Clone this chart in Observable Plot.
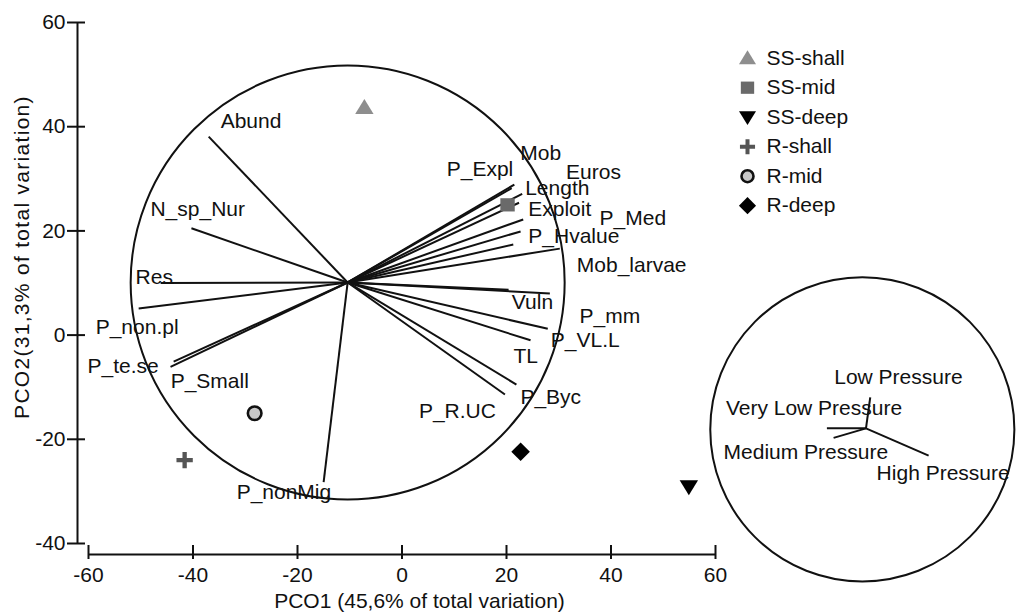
<!DOCTYPE html>
<html>
<head>
<meta charset="utf-8">
<script src="https://cdn.jsdelivr.net/npm/d3@7"></script>
<script src="https://cdn.jsdelivr.net/npm/@observablehq/plot@0.6"></script>
<style>
  html, body { margin: 0; padding: 0; background: #fff; overflow: hidden; }
  .ytitle text { letter-spacing: 1.3px; }
</style>
</head>
<body>
<div id="chart"></div>
<script>
// ---- Site scores on the first two principal coordinates ----
const sites = ["SS-shall", "SS-mid", "SS-deep", "R-shall", "R-mid", "R-deep"];
const pco1 = [-7.2, 20.2, 54.9, -41.6, -28.2, 22.7];
const pco2 = [43.7, 25.0, -29.1, -24.0, -15.0, -22.4];

// ---- Trait / fishery vectors (end points, PCO units) ----
const variables = [
  "Abund", "N_sp_Nur", "Res", "P_non.pl", "P_te.se", "P_Small", "P_nonMig",
  "Mob", "P_Expl", "Length", "Euros", "Exploit", "P_Med", "P_Hvalue", "Mob_larvae",
  "Vuln", "P_mm", "P_VL.L", "TL", "P_Byc", "P_R.UC"
];
const vecX = [-37.0, -40.3, -46.2, -50.4, -44.3, -43.7, -15.0,
              21.5, 21.0, 23.0, 22.4, 23.2, 22.7, 21.3, 30.2,
              28.3, 20.4, 27.9, 24.6, 21.9, 19.7];
const vecY = [38.1, 20.5, 10.0, 5.1, -6.1, -5.1, -28.2,
              28.9, 28.2, 27.1, 25.4, 22.2, 19.9, 17.4, 16.6,
              8.0, 8.7, 1.2, -1.0, -9.5, -11.4];
const vectorOrigin = [-10.4, 10.1];

// ---- Fishing pressure loadings (unit-circle scale) ----
const pressures = ["Low Pressure", "Very Low Pressure", "Medium Pressure", "High Pressure"];
const pressX = [0.028, -0.257, -0.213, 0.412];
const pressY = [0.204, 0.0, -0.063, -0.180];

// ---- Axis ticks ----
const xTicks = [-60, -40, -20, 0, 20, 40, 60];
const yTicks = [-40, -20, 0, 20, 40, 60];

const xTitle = "PCO1 (45,6% of total variation)";
const yTitle = "PCO2(31,3% of total variation)";

// ---- Layout ----
const W = 1016, H = 614;
const mL = 88, mR = 301, mT = 22, mB = 71;
const kx = (W - mR - mL) / 120;   // px per PCO1 unit
const ink = "#111";
const font = "'Liberation Sans', Arial, Helvetica, sans-serif";

// label placement relative to each vector tip (px)
const labelNudge = {
  "Abund": [12, -15], "N_sp_Nur": [-41, -19], "Res": [-25, -6], "P_non.pl": [-43, 19],
  "P_te.se": [-83, -1], "P_Small": [-3, 20], "P_nonMig": [-87, 10],
  "Mob": [6, -31], "P_Expl": [-65, -19], "Length": [3, -6], "Euros": [47, -31],
  "Exploit": [5, -10], "P_Med": [79, -13], "P_Hvalue": [15, -8], "Mob_larvae": [17, 17],
  "Vuln": [-38, 9], "P_mm": [71, 26], "P_VL.L": [3, 11], "TL": [-17, 16],
  "P_Byc": [4, 13], "P_R.UC": [-86, 17]
};
const pressureNudge = {
  "Low Pressure": [-36, -20], "Very Low Pressure": [-101, -20],
  "Medium Pressure": [-110, 14], "High Pressure": [-52, 18]
};

// inset correlation circle (PCO units) for the pressure loadings
const insetCentre = [88.1, -18.1];
const insetOrigin = [88.8, -17.9];
const insetR = 29.1;

// ---- Marker shapes ----
const rad = (size) => Math.sqrt(size / Math.PI);
const triUp = { draw(c, s) { const r = rad(s); c.moveTo(0, -1.06 * r); c.lineTo(1.15 * r, 0.82 * r); c.lineTo(-1.15 * r, 0.82 * r); c.closePath(); } };
const triDown = { draw(c, s) { const r = rad(s); c.moveTo(0, 1.06 * r); c.lineTo(1.15 * r, -0.82 * r); c.lineTo(-1.15 * r, -0.82 * r); c.closePath(); } };
const square = { draw(c, s) { const r = rad(s) * 0.9; c.rect(-r, -r * 0.92, 2 * r, 1.84 * r); } };
const diamond = { draw(c, s) { const r = rad(s) * 1.16; c.moveTo(0, -r); c.lineTo(r, 0); c.lineTo(0, r); c.lineTo(-r, 0); c.closePath(); } };
const plus = { draw(c, s) { const r = rad(s) * 1.02, t = rad(s) * 0.27; c.moveTo(-r, -t); c.lineTo(-t, -t); c.lineTo(-t, -r); c.lineTo(t, -r); c.lineTo(t, -t); c.lineTo(r, -t); c.lineTo(r, t); c.lineTo(t, t); c.lineTo(t, r); c.lineTo(-t, r); c.lineTo(-t, t); c.lineTo(-r, t); c.closePath(); } };

const siteStyle = {
  "SS-shall": { symbol: triUp, fill: "#8e8e8e", stroke: "none" },
  "SS-mid":   { symbol: square, fill: "#6a6a6a", stroke: "none" },
  "SS-deep":  { symbol: triDown, fill: "#000", stroke: "none" },
  "R-shall":  { symbol: plus, fill: "#555", stroke: "none" },
  "R-mid":    { symbol: "circle", fill: "#c8c8c8", stroke: "#111", strokeWidth: 2.6 },
  "R-deep":   { symbol: diamond, fill: "#000", stroke: "none" }
};
const siteR = { "R-mid": 6.8 };

const idx = (arr) => arr.map((_, i) => i);

const marks = [
  // correlation circle
  Plot.dot([vectorOrigin], { x: d => d[0], y: d => d[1], r: 217, fill: "none", stroke: ink, strokeWidth: 2 }),
  // vectors
  Plot.link(idx(variables), {
    x1: () => vectorOrigin[0], y1: () => vectorOrigin[1],
    x2: i => vecX[i], y2: i => vecY[i],
    stroke: ink, strokeWidth: 2
  }),
  // vector labels
  ...variables.map((v, i) => Plot.text([i], {
    x: j => vecX[j], y: j => vecY[j], text: j => variables[j],
    dx: labelNudge[v][0], dy: labelNudge[v][1], textAnchor: "start", fill: ink
  })),
  // site scores
  ...sites.map((s, i) => Plot.dot([i], {
    x: j => pco1[j], y: j => pco2[j], r: siteR[s] ?? 8, ...siteStyle[s]
  })),
  // inset: pressure loadings
  Plot.dot([insetCentre], { x: d => d[0], y: d => d[1], r: insetR * kx, fill: "none", stroke: ink, strokeWidth: 2 }),
  Plot.link(idx(pressures), {
    x1: () => insetOrigin[0], y1: () => insetOrigin[1],
    x2: i => insetOrigin[0] + pressX[i] * insetR, y2: i => insetOrigin[1] + pressY[i] * insetR,
    stroke: ink, strokeWidth: 2
  }),
  ...pressures.map((p, i) => Plot.text([i], {
    x: j => insetOrigin[0] + pressX[j] * insetR, y: j => insetOrigin[1] + pressY[j] * insetR,
    text: j => pressures[j], dx: pressureNudge[p][0], dy: pressureNudge[p][1],
    textAnchor: "start", fill: ink
  })),
  // axes
  Plot.ruleX([-60], { y1: -40, y2: 60, dx: -11, stroke: ink, strokeWidth: 2 }),
  Plot.ruleY([-40], { x1: -60, x2: 60, dy: 11, stroke: ink, strokeWidth: 2 }),
  Plot.axisY(yTicks, { tickSize: 18, tickPadding: 2, dx: -3, label: null, tickFormat: d => String(d), stroke: ink, strokeWidth: 2, fill: ink }),
  Plot.axisX(xTicks, { tickSize: 14, tickPadding: 8, dy: 2, label: null, tickFormat: d => String(d), stroke: ink, strokeWidth: 2, fill: ink }),
  Plot.text([xTitle], { frameAnchor: "bottom", dx: 17.5, dy: 58, text: d => d, fill: ink, textAnchor: "middle", lineAnchor: "middle" }),
  Plot.text([yTitle], { frameAnchor: "left", rotate: -90, dx: -66, dy: -26, text: d => d, fill: ink, textAnchor: "middle", lineAnchor: "middle", className: "ytitle" }),
  // legend
  ...sites.map((s, i) => Plot.dot([s], {
    frameAnchor: "top-right", dx: 32, dy: 35.7 + i * 29.5,
    r: s === "R-mid" ? 6 : 7.4, ...siteStyle[s]
  })),
  ...sites.map((s, i) => Plot.text([s], {
    frameAnchor: "top-right", dx: 51, dy: 35.7 + i * 29.5,
    text: d => d, textAnchor: "start", lineAnchor: "middle", fill: ink
  }))
];

const chart = Plot.plot({
  width: W, height: H,
  marginLeft: mL, marginRight: mR, marginTop: mT, marginBottom: mB,
  x: { domain: [-60, 60] },
  y: { domain: [-40, 60] },
  style: { fontFamily: font, fontSize: "21px", color: ink, background: "#fff", overflow: "visible" },
  marks
});
document.getElementById("chart").appendChild(chart);
</script>
</body>
</html>
